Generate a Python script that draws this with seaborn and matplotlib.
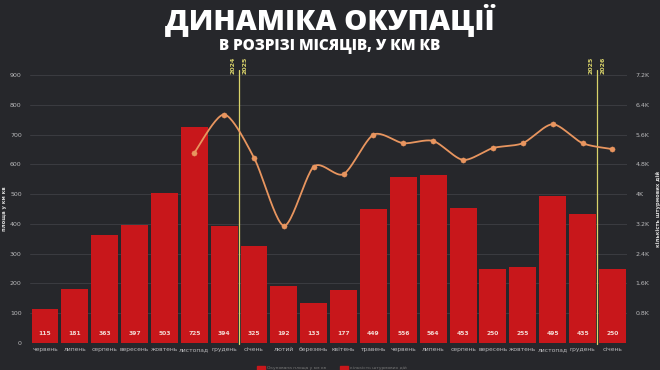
import numpy as np
import pandas as pd
import matplotlib
matplotlib.use("Agg")
import matplotlib.pyplot as plt
import seaborn as sns

months = ["червень", "липень", "серпень", "вересень", "жовтень", "листопад", "грудень",
          "січень", "лютий", "березень", "квітень", "травень", "червень", "липень",
          "серпень", "вересень", "жовтень", "листопад", "грудень", "січень"]
area_km2 = [115, 181, 363, 397, 503, 725, 394, 325, 192, 133, 177, 449, 556, 564,
            453, 250, 255, 495, 435, 250]
assaults = [None, None, None, None, None, 5110, 6140, 4980, 3150, 4740, 4540, 5600,
            5370, 5430, 4920, 5240, 5370, 5880, 5370, 5210]
left_ticks = [0, 100, 200, 300, 400, 500, 600, 700, 800, 900]
right_ticks = [800, 1600, 2400, 3200, 4000, 4800, 5600, 6400, 7200]
right_tick_labels = ["0.8K", "1.6K", "2.4K", "3.2K", "4K", "4.8K", "5.6K", "6.4K", "7.2K"]
year_breaks = [(6.5, "2024", "2025"), (18.5, "2025", "2026")]

BG = "#26272b"
RED = "#c8171b"
LINE = "#e8955f"
YEL = "#d9d36a"
TXT = "#b9b9bb"

sns.set_theme(style="dark")
plt.rcParams["font.family"] = ["DejaVu Sans"]

df = pd.DataFrame({"key": [f"{i}" for i in range(len(months))],
                   "month": months, "area": area_km2})

fig = plt.figure(figsize=(6.6, 3.7), dpi=100, facecolor=BG)
ax = fig.add_axes([0.0455, 0.073, 0.905, 0.724])
ax.set_facecolor(BG)

sns.barplot(data=df, x="key", y="area", color=RED, saturation=1, width=0.9,
            linewidth=0, edgecolor=RED, ax=ax, zorder=2)
ax.set_ylim(0, 900)
ax.set_xlim(-0.5, len(months) - 0.5)
ax.set_yticks(left_ticks)
ax.set_yticklabels([str(t) for t in left_ticks], color=TXT, fontsize=4.5)
ax.set_xticks(range(len(months)))
ax.set_xticklabels(months, color=TXT, fontsize=4.3)
ax.tick_params(axis="both", length=0, pad=3)
ax.tick_params(axis="y", pad=6)
ax.set_xlabel("")
ax.set_ylabel("площа у км кв", color="#d8d8d8", fontsize=3.8, fontweight="bold", labelpad=2)
ax.yaxis.grid(True, color="#3b3c41", linewidth=0.7, zorder=0)
ax.xaxis.grid(False)
for s in ax.spines.values():
    s.set_visible(False)

for i, v in enumerate(area_km2):
    ax.text(i, 33, str(v), ha="center", va="center", color="#f3d6d0",
            fontsize=4.3, fontweight="bold", zorder=4)

ax2 = ax.twinx()
ax2.set_ylim(0, 7200)
ax2.set_yticks(right_ticks)
ax2.set_yticklabels(right_tick_labels, color=TXT, fontsize=4.5)
ax2.tick_params(axis="y", length=0, pad=6)
ax2.set_ylabel("кількість штурмових дій", color="#d8d8d8", fontsize=3.8,
               fontweight="bold", labelpad=4)
ax2.grid(False)
for s in ax2.spines.values():
    s.set_visible(False)

# smooth curve through the assault points (Catmull-Rom rendering, reduced tension)
pts = [(i, v) for i, v in enumerate(assaults) if v is not None]
px = np.array([p[0] for p in pts], float)
py = np.array([p[1] for p in pts], float)
tension = 0.8
cx, cy = [], []
for k in range(len(px) - 1):
    i0, i3 = max(k - 1, 0), min(k + 2, len(px) - 1)
    t = np.linspace(0, 1, 25)
    h00 = 2 * t ** 3 - 3 * t ** 2 + 1
    h10 = t ** 3 - 2 * t ** 2 + t
    h01 = -2 * t ** 3 + 3 * t ** 2
    h11 = t ** 3 - t ** 2
    for arr, out in ((px, cx), (py, cy)):
        m1 = tension * (arr[k + 1] - arr[i0]) / 2
        m2 = tension * (arr[i3] - arr[k]) / 2
        out.extend(h00 * arr[k] + h10 * m1 + h01 * arr[k + 1] + h11 * m2)
ax2.plot(cx, cy, color=LINE, linewidth=1.3, zorder=5)
sns.scatterplot(x=px, y=py, color=LINE, s=14, edgecolor=LINE, ax=ax2, zorder=6)

for xb, y1, y2 in year_breaks:
    ax.axvline(xb, color=YEL, linewidth=0.9, ymin=-0.005, ymax=1.02, clip_on=False, zorder=3)
    ax.text(xb - 0.2, 905, y1, rotation=90, ha="center", va="bottom", color=YEL,
            fontsize=4.5, fontweight="bold")
    ax.text(xb + 0.2, 905, y2, rotation=90, ha="center", va="bottom", color=YEL,
            fontsize=4.5, fontweight="bold")

fig.text(0.5, 0.945, "ДИНАМІКА ОКУПАЦІЇ", ha="center", va="center", color="white",
         fontsize=21, fontweight="heavy", family=["Open Sans", "DejaVu Sans"])
fig.text(0.5, 0.877, "В РОЗРІЗІ МІСЯЦІВ, У КМ КВ", ha="center", va="center",
         color="white", fontsize=11, fontweight="heavy", family=["Open Sans", "DejaVu Sans"])

# legend
fig.patches.append(plt.Rectangle((0.39, 0.0), 0.012, 0.012, transform=fig.transFigure,
                                 color=RED, figure=fig))
fig.text(0.405, 0.006, "Окупована площа у км кв", color="#777", fontsize=3.2, va="center")
fig.patches.append(plt.Rectangle((0.515, 0.0), 0.012, 0.012, transform=fig.transFigure,
                                 color=RED, figure=fig))
fig.text(0.53, 0.006, "кількість штурмових дій", color="#777", fontsize=3.2, va="center")

fig.savefig("out.png", dpi=100, facecolor=BG)
